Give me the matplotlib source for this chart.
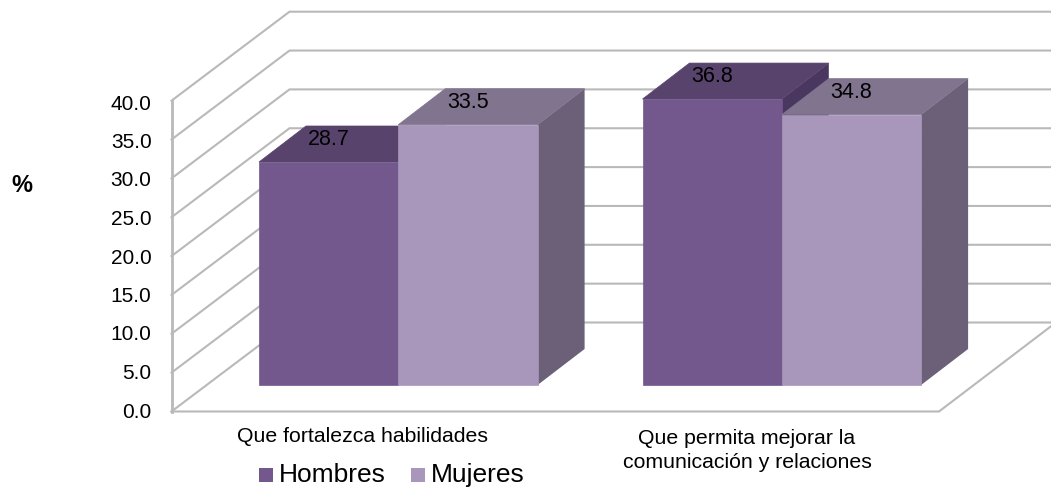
import matplotlib
matplotlib.use("Agg")
import matplotlib.pyplot as plt
from matplotlib.patches import Polygon, Rectangle

plt.rcParams['font.family'] = ['Liberation Sans', 'DejaVu Sans']

### Data
categories = ["Que fortalezca habilidades", "Que permita mejorar la\ncomunicación y relaciones"]
hombres = [28.7, 36.8]
mujeres = [33.5, 34.8]
yticks = [0, 5, 10, 15, 20, 25, 30, 35, 40]

### Fake 3D layout, in pixels of the 1051x488 image
Y0 = 411.5
PX_UNIT = 7.77
WALL_DX, WALL_DY = 118, -89
LEFT, RIGHT = 171.5, 939
BAR_BASE = 385
BAR_W = 139.3
BAR_DX, BAR_DY = 47, -36
GROUP_X = [259, 642.5]

C_H = dict(front="#73588e", top="#58436c", side="#49375f")
C_M = dict(front="#a897bb", top="#80748e", side="#6b6078")
GRID = "#b9b9b9"

fig = plt.figure(figsize=(10.51, 4.88), dpi=100)
ax = fig.add_axes([0, 0, 1, 1])
ax.set_xlim(0, 1051)
ax.set_ylim(488, 0)
ax.axis("off")


def bar3d(x, val, col, z):
    top = BAR_BASE - val * PX_UNIT
    ax.add_patch(Polygon([(x + BAR_W, BAR_BASE), (x + BAR_W + BAR_DX, BAR_BASE + BAR_DY),
                          (x + BAR_W + BAR_DX, top + BAR_DY), (x + BAR_W, top)],
                         fc=col["side"], ec="none", zorder=z))
    ax.add_patch(Polygon([(x, top), (x + BAR_DX, top + BAR_DY),
                          (x + BAR_W + BAR_DX, top + BAR_DY), (x + BAR_W, top)],
                         fc=col["top"], ec=col["top"], lw=0.5, zorder=z))
    ax.add_patch(Rectangle((x, top), BAR_W, BAR_BASE - top, fc=col["front"], ec=col["front"], lw=0.5, zorder=z + 0.1))
    ax.text(x + BAR_W / 2, top - 22.5, f"{val:.1f}", ha="center", va="center",
            fontsize=15.5, color="black", zorder=10)


### Walls and floor
for t in yticks:
    y = Y0 - t * PX_UNIT
    ax.plot([LEFT, LEFT + WALL_DX, 1051], [y, y + WALL_DY, y + WALL_DY], color=GRID, lw=1.5, zorder=1,
            solid_joinstyle="miter")
    ax.text(151.5, 412 - t * 7.7, f"{t:.1f}", ha="right", va="center", fontsize=15, color="black")
ax.plot([LEFT, LEFT], [Y0, Y0 - 40 * PX_UNIT], color=GRID, lw=2, zorder=1)
ax.plot([LEFT, RIGHT, 1051], [Y0, Y0, Y0 + 113 * WALL_DY / WALL_DX], color=GRID, lw=1.5, zorder=1,
        solid_joinstyle="miter")

### Bars
for i, gx in enumerate(GROUP_X):
    bar3d(gx, hombres[i], C_H, 2 + i)
    bar3d(gx + BAR_W, mujeres[i], C_M, 2.5 + i)

### Text
ax.text(362.5, 436, categories[0], ha="center", va="center", fontsize=15.3, color="black")
ax.text(747, 450.5, categories[1], ha="center", va="center", fontsize=15.3, color="black", linespacing=1.3)
ax.text(21.5, 186, "%", ha="center", va="center", fontsize=17, fontweight="bold", color="black")

### Legend
ax.add_patch(Rectangle((259, 468), 14, 14, fc=C_H["front"], ec="none"))
ax.text(279, 475, "Hombres", ha="left", va="center", fontsize=19, color="black")
ax.add_patch(Rectangle((411, 468), 14, 14, fc=C_M["front"], ec="none"))
ax.text(431, 475, "Mujeres", ha="left", va="center", fontsize=19, color="black")

fig.savefig("out.png", dpi=100)
